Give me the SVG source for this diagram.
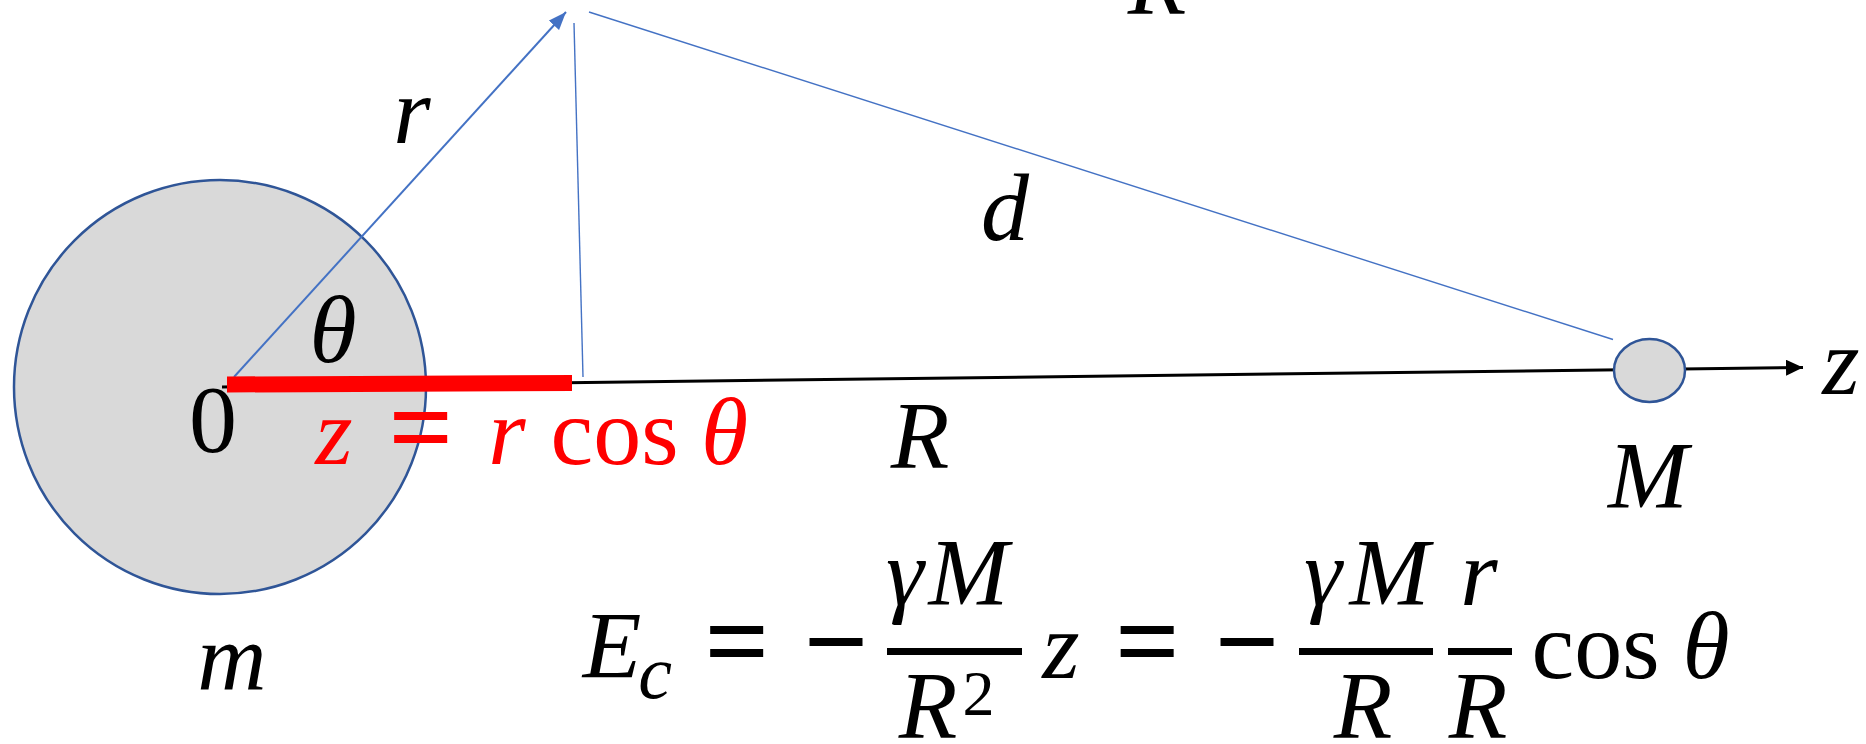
<svg xmlns="http://www.w3.org/2000/svg" width="1866" height="744" viewBox="0 0 1866 744">
<style>
.mi{font-family:"Liberation Serif","Times New Roman",serif;font-style:italic;font-size:96px;fill:#000;text-anchor:middle}
.mu{font-family:"Liberation Serif","Times New Roman",serif;font-style:normal;font-size:96px;fill:#000;text-anchor:middle}
.op{font-weight:bold;font-size:114px}
.red{fill:#FF0000}
.body{fill:#D9D9D9;stroke:#2F5597;stroke-width:2.5}
.blue{stroke:#4472C4;fill:none}
.bar{stroke:#000;stroke-width:7}
</style>
<defs>
<marker id="ab" markerUnits="userSpaceOnUse" markerWidth="20" markerHeight="14" refX="18" refY="7" orient="auto">
<path d="M0,0 L18,7 L0,14 Z" fill="#4472C4"/>
</marker>
<marker id="ak" markerUnits="userSpaceOnUse" markerWidth="18" markerHeight="16" refX="17" refY="8" orient="auto">
<path d="M0,0 L17,8 L0,16 Z" fill="#000"/>
</marker>
</defs>
<rect width="1866" height="744" fill="#fff"/>
<g id="node-m">
<ellipse class="body" cx="220" cy="387" rx="206" ry="207"/>
</g>
<g id="connectors">
<line class="blue" x1="234" y1="377" x2="566" y2="12" stroke-width="2" marker-end="url(#ab)"/>
<line class="blue" x1="574" y1="23" x2="583" y2="377" stroke-width="1.4"/>
<line class="blue" x1="589" y1="12" x2="1613" y2="339.5" stroke-width="1.4"/>
<line x1="222" y1="387" x2="1803" y2="367.5" stroke="#000" stroke-width="3" marker-end="url(#ak)"/>
<polygon points="227,376.5 572,375 572,391 227,392.5" fill="#FF0000"/>
</g>
<g id="node-M">
<ellipse class="body" cx="1649.5" cy="370.5" rx="35.5" ry="31.5"/>
</g>
<g id="labels">
<text class="mi" x="1157" y="14">R</text>
<text class="mi" x="412" y="143">r</text>
<text class="mi" x="333" y="362">θ</text>
<text class="mu" x="213" y="452">0</text>
<text class="mi" x="1005" y="240">d</text>
<text class="mi" x="920" y="468">R</text>
<text class="mi" x="1648" y="508">M</text>
<text class="mi" x="1841" y="394">z</text>
<text class="mi" x="232" y="690">m</text>
</g>
<g id="red-formula">
<text class="mi red" x="334" y="464">z</text>
<text class="mu op red" x="421" y="466">=</text>
<text class="mi red" x="507" y="464">r</text>
<text class="mu red" x="614.5" y="464">cos</text>
<text class="mi red" x="724.5" y="464">θ</text>
</g>
<g id="equation">
<text class="mi" x="612" y="678">E</text>
<text class="mi" x="655" y="698" style="font-size:76px">c</text>
<text class="mu op" x="737" y="680">=</text>
<text class="mu op" x="836" y="680">−</text>
<line class="bar" x1="887" y1="651.5" x2="1022" y2="651.5"/>
<text class="mi" x="905" y="605">γ</text>
<text class="mi" x="968.5" y="605">M</text>
<text class="mi" x="928" y="738">R</text>
<text class="mu" x="978.5" y="715" style="font-size:64px">2</text>
<text class="mi" x="1061" y="678">z</text>
<text class="mu op" x="1147.5" y="680">=</text>
<text class="mu op" x="1247" y="680">−</text>
<line class="bar" x1="1299" y1="651.5" x2="1433" y2="651.5"/>
<text class="mi" x="1323" y="605">γ</text>
<text class="mi" x="1389.5" y="605">M</text>
<text class="mi" x="1363" y="738">R</text>
<line class="bar" x1="1448" y1="651.5" x2="1512" y2="651.5"/>
<text class="mi" x="1479" y="605">r</text>
<text class="mi" x="1478" y="738">R</text>
<text class="mu" x="1595.5" y="678">cos</text>
<text class="mi" x="1706" y="678">θ</text>
</g>
</svg>
